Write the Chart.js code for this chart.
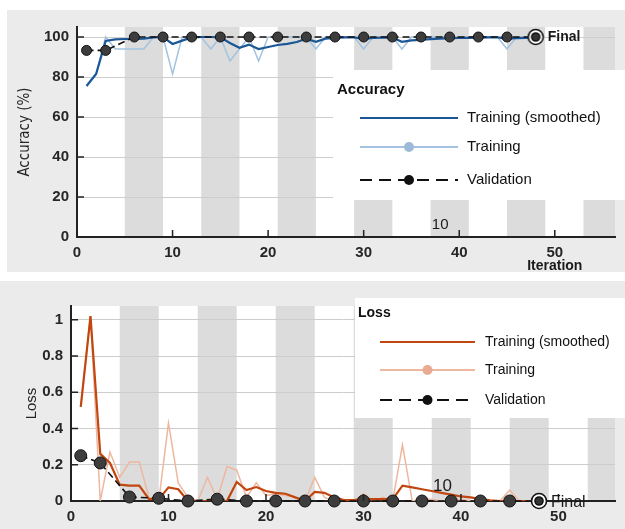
<!DOCTYPE html>
<html>
<head>
<meta charset="utf-8">
<script src="https://cdn.jsdelivr.net/npm/chart.js@4.4.1/dist/chart.umd.min.js"></script>
<style>
  body { margin: 0; background: #fff; width: 625px; height: 529px; position: relative; overflow: hidden; }
  #accBox { position: absolute; left: 7px; top: 10px; }
  #lossBox { position: absolute; left: 0; top: 281px; }
</style>
</head>
<body>
<div id="accBox"><canvas id="accChart" width="618" height="262"></canvas></div>
<div id="lossBox"><canvas id="lossChart" width="625" height="248"></canvas></div>

<script>
  // iterations of the training run
  var iterations = [1, 2, 3, 4, 5, 6, 7, 8, 9, 10, 11, 12, 13, 14, 15, 16, 17, 18, 19, 20,
                    21, 22, 23, 24, 25, 26, 27, 28, 29, 30, 31, 32, 33, 34, 35, 36, 37, 38, 39, 40,
                    41, 42, 43, 44, 45, 46, 47, 48];

  // accuracy (%)
  var accSmooth = [75.5, 81.5, 98.0, 98.8, 99.0, 99.0, 99.2, 99.8, 100, 96.5,
                   98.2, 99.8, 100, 100, 99.8, 97.0, 94.6, 96.2, 94.0, 95.0,
                   96.0, 96.6, 97.5, 99.2, 97.6, 99.2, 99.6, 99.8, 99.8, 99.0,
                   99.5, 99.7, 99.7, 97.6, 98.3, 98.6, 98.9, 99.2, 99.4, 99.5,
                   99.6, 99.7, 99.8, 99.8, 99.2, 99.4, 99.6, 99.8];
  var accRaw = [75.5, 81.5, 100, 94, 94, 94, 94, 100, 100, 81.5,
                100, 100, 100, 94, 100, 88, 94, 100, 88, 100,
                100, 100, 100, 100, 94, 100, 100, 100, 100, 94,
                100, 100, 100, 94, 100, 100, 100, 100, 100, 100,
                100, 100, 100, 100, 94, 100, 100, 100];

  // loss
  var lossSmooth = [0.52, 1.02, 0.26, 0.21, 0.09, 0.085, 0.085, 0.01, 0.01, 0.075,
                    0.065, 0.0, 0.0, 0.0, 0.0, 0.0, 0.105, 0.06, 0.077, 0.055,
                    0.045, 0.04, 0.02, 0.0, 0.05, 0.045, 0.02, 0.005, 0.005, 0.01,
                    0.01, 0.01, 0.01, 0.085, 0.075, 0.065, 0.055, 0.045, 0.035, 0.025,
                    0.02, 0.01, 0.003, 0, 0, 0, 0, 0];
  var lossRaw = [0.52, 1.02, 0.0, 0.27, 0.13, 0.215, 0.215, 0.02, 0.0, 0.43,
                 0.1, 0.02, 0.0, 0.13, 0.01, 0.19, 0.17, 0.02, 0.1, 0.03,
                 0.04, 0.03, 0.02, 0.0, 0.13, 0.02, 0.0, 0.0, 0.0, 0.04,
                 0.0, 0.02, 0.0, 0.31, 0.0, 0.01, 0.01, 0.0, 0.0, 0.01,
                 0.0, 0.0, 0.0, 0.0, 0.06, 0.0, 0.0, 0.0];

  // validation every 3 iterations
  var valIters = [1, 3, 6, 9, 12, 15, 18, 21, 24, 27, 30, 33, 36, 39, 42, 45, 48];
  var valAcc = [93.3, 93.3, 100, 100, 100, 100, 100, 100, 100, 100, 100, 100, 100, 100, 100, 100, 100];
  var valLoss = [0.25, 0.21, 0.022, 0.015, 0, 0.01, 0, 0, 0, 0, 0, 0, 0, 0, 0, 0, 0];

  var finalIter = 48, finalAcc = 100, finalLoss = 0;

  // shaded epochs (start, end iteration)
  var epochBands = [[5, 9], [13, 17], [21, 25], [29, 33], [37, 41], [45, 49], [53, 57]];

  function pts(xs, ys) {
    return xs.map(function(x, i) { return { x: x, y: ys[i] }; });
  }

  // bullseye marker for the final value
  var bull = document.createElement('canvas');
  bull.width = 18; bull.height = 18;
  (function() {
    var c = bull.getContext('2d');
    c.fillStyle = '#fff'; c.strokeStyle = '#111'; c.lineWidth = 1.6;
    c.beginPath(); c.arc(9, 9, 7.5, 0, Math.PI * 2); c.fill(); c.stroke();
    c.fillStyle = '#333';
    c.beginPath(); c.arc(9, 9, 4, 0, Math.PI * 2); c.fill(); c.stroke();
  })();

  var tickFont = { family: '"Liberation Sans", Arial, sans-serif', size: 15, weight: 'bold' };
  var narrow = '"Liberation Sans Narrow", "DejaVu Sans Condensed", "Liberation Sans", sans-serif';

  var frame = {
    id: 'frame',
    beforeDraw: function(chart) {
      var ctx = chart.ctx, a = chart.chartArea, xs = chart.scales.x;
      ctx.save();
      ctx.fillStyle = '#ebebeb';
      ctx.fillRect(0, 0, chart.width, chart.height);
      ctx.fillStyle = '#ffffff';
      ctx.fillRect(a.left, a.top, a.width, a.height);
      ctx.beginPath(); ctx.rect(a.left, a.top, a.width, a.height); ctx.clip();
      ctx.fillStyle = '#dcdcdc';
      epochBands.forEach(function(b) {
        var l = xs.getPixelForValue(b[0]), r = xs.getPixelForValue(b[1]);
        ctx.fillRect(l, a.top, r - l, a.height);
      });
      ctx.restore();
    },
    afterDatasetsDraw: function(chart, args, o) {
      var ctx = chart.ctx, a = chart.chartArea, xs = chart.scales.x, ys = chart.scales.y;
      ctx.save();

      // inward tick marks
      ctx.strokeStyle = '#222'; ctx.lineWidth = 1.5;
      ctx.beginPath();
      ys.ticks.forEach(function(t) {
        var p = ys.getPixelForValue(t.value);
        ctx.moveTo(a.left, p); ctx.lineTo(a.left + 7, p);
      });
      xs.ticks.forEach(function(t) {
        var p = xs.getPixelForValue(t.value);
        ctx.moveTo(p, a.bottom); ctx.lineTo(p, a.bottom - 7);
      });
      ctx.stroke();

      // "Final" label
      var fp = chart.getDatasetMeta(0).data[0];
      ctx.fillStyle = '#1a1a1a';
      ctx.textBaseline = 'middle'; ctx.textAlign = 'left';
      ctx.font = o.finalFont;
      ctx.fillText('Final', fp.x + 12, fp.y + o.finalDy);

      // stray note
      ctx.font = o.note.font;
      ctx.textAlign = 'center';
      ctx.fillText(o.note.text, xs.getPixelForValue(o.note.x), ys.getPixelForValue(o.note.y));

      // x title
      if (o.xTitle) {
        ctx.font = 'bold 14px "Liberation Sans", Arial, sans-serif';
        ctx.fillText(o.xTitle, xs.getPixelForValue(50), a.bottom + 29);
      }

      // legend
      var lg = o.legend;
      ctx.fillStyle = '#fff';
      ctx.fillRect(lg.box[0], lg.box[1], lg.box[2] - lg.box[0], lg.box[3] - lg.box[1]);
      ctx.textAlign = 'left';
      ctx.fillStyle = '#111';
      ctx.font = lg.titleFont;
      ctx.fillText(lg.title, lg.titlePos[0], lg.titlePos[1]);
      lg.order.forEach(function(di, k) {
        var ds = chart.data.datasets[di], y = lg.rows[k];
        ctx.strokeStyle = ds.borderColor; ctx.lineWidth = 2;
        ctx.setLineDash(ds.borderDash ? lg.dash : []);
        ctx.beginPath(); ctx.moveTo(lg.sample[0], y); ctx.lineTo(lg.sample[1], y); ctx.stroke();
        ctx.setLineDash([]);
        if (lg.marker[k]) {
          ctx.fillStyle = lg.markerColor[k];
          ctx.beginPath();
          ctx.arc((lg.sample[0] + lg.sample[1]) / 2, y, lg.marker[k], 0, Math.PI * 2);
          ctx.fill();
        }
        ctx.fillStyle = '#111';
        ctx.font = lg.font;
        ctx.fillText(ds.label, lg.textX, y);
      });
      ctx.restore();
    }
  };

  function makeChart(id, cfg) {
    return new Chart(document.getElementById(id), {
      type: 'line',
      data: {
        datasets: [
          {
            label: 'Final', data: [{ x: finalIter, y: cfg.finalVal }],
            showLine: false, pointStyle: bull, pointRadius: 9, clip: false
          },
          {
            label: 'Validation', data: pts(valIters, cfg.val),
            borderColor: '#111', borderWidth: 1.6, borderDash: [7, 4],
            pointRadius: cfg.valRadius, pointBackgroundColor: '#3d3d3d',
            pointBorderColor: '#111', pointBorderWidth: 1, clip: false
          },
          {
            label: 'Training (smoothed)', data: pts(iterations, cfg.smooth),
            borderColor: cfg.smoothColor, borderWidth: 2.2, pointRadius: 0
          },
          {
            label: 'Training', data: pts(iterations, cfg.raw),
            borderColor: cfg.rawColor, borderWidth: 1.5, pointRadius: 0
          }
        ]
      },
      options: {
        responsive: false,
        animation: false,
        devicePixelRatio: 1,
        layout: { padding: { top: cfg.padTop, left: 0, right: 0, bottom: 0 } },
        scales: {
          x: {
            type: 'linear', min: 0, max: cfg.xMax,
            afterFit: function(s) { s.height = cfg.xHeight; },
            grid: { display: false, drawTicks: false },
            border: { display: true, color: '#222', width: 2 },
            ticks: { stepSize: 10, includeBounds: false, maxRotation: 0, font: tickFont, color: '#262626', padding: cfg.xPad }
          },
          y: {
            min: 0, max: cfg.yMax,
            afterFit: function(s) { s.width = cfg.yWidth; },
            grid: { color: '#cdcdcd', lineWidth: 1, drawTicks: false },
            border: { display: true, color: '#222', width: 2 },
            ticks: {
              stepSize: cfg.yStep, includeBounds: false, font: tickFont, color: '#262626', padding: 8,
              callback: function(v) { return String(+v.toFixed(1)); }
            },
            title: {
              display: true, text: cfg.yTitle, color: '#262626',
              font: { family: cfg.yTitleFamily, size: 15 },
              padding: { top: cfg.yTitlePad, bottom: 0 }
            }
          }
        },
        plugins: {
          legend: { display: false },
          tooltip: { enabled: false },
          frame: cfg.frame
        }
      },
      plugins: [frame]
    });
  }

  makeChart('accChart', {
    finalVal: finalAcc, val: valAcc, valRadius: 5,
    smooth: accSmooth, raw: accRaw,
    smoothColor: '#1b5797', rawColor: '#a3c3e0',
    padTop: 15, xMax: 56.3, xHeight: 35, xPad: 7, yWidth: 70, yMax: 105, yStep: 20,
    yTitle: 'Accuracy (%)', yTitleFamily: narrow, yTitlePad: 9,
    frame: {
      finalFont: 'bold 14px "Liberation Sans", Arial, sans-serif', finalDy: 0,
      note: { text: '10', x: 38, y: 6, font: '15px "Liberation Sans", Arial, sans-serif' },
      xTitle: 'Iteration',
      legend: {
        box: [326, 60, 618, 190], title: 'Accuracy', titlePos: [330, 80],
        titleFont: 'bold 15px "Liberation Sans", Arial, sans-serif',
        font: '15px "Liberation Sans", Arial, sans-serif',
        rows: [108, 137, 170], sample: [353, 451], textX: 460,
        order: [2, 3, 1], marker: [0, 5, 5], markerColor: [null, '#9dbbd8', '#111'],
        dash: [12, 7]
      }
    }
  });

  makeChart('lossChart', {
    finalVal: finalLoss, val: valLoss, valRadius: 6,
    smooth: lossSmooth, raw: lossRaw,
    smoothColor: '#c1460f', rawColor: '#eeb7a0',
    padTop: 25, xMax: 55.8, xHeight: 28, xPad: 7, yWidth: 71, yMax: 1.076, yStep: 0.2,
    yTitle: 'Loss', yTitleFamily: '"Liberation Sans", Arial, sans-serif', yTitlePad: 23,
    frame: {
      finalFont: '16px "Liberation Sans", Arial, sans-serif', finalDy: 2,
      note: { text: '10', x: 38.1, y: 0.08, font: '17px "Liberation Sans", Arial, sans-serif' },
      xTitle: null,
      legend: {
        box: [355, 17, 625, 137], title: 'Loss', titlePos: [358, 32],
        titleFont: 'bold 14px "Liberation Sans", Arial, sans-serif',
        font: '14px "Liberation Sans", Arial, sans-serif',
        rows: [61, 89, 119], sample: [380, 475], textX: 485,
        order: [2, 3, 1], marker: [0, 5, 5], markerColor: [null, '#e9ab92', '#111'],
        dash: [12, 7]
      }
    }
  });
</script>
</body>
</html>
